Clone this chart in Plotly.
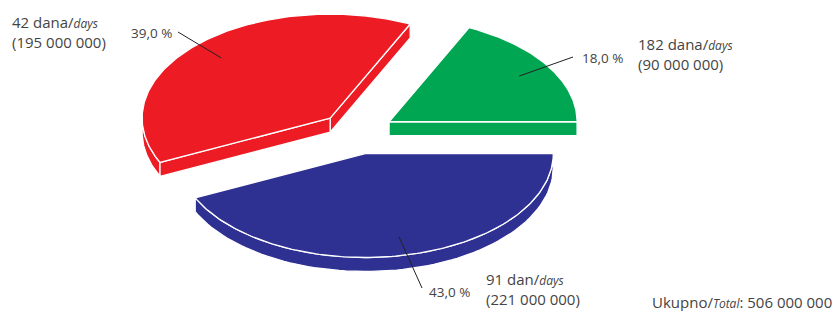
import numpy as np
import plotly.graph_objects as go

# ---- data ----
categories = ["182 dana", "42 dana", "91 dan"]
counts = [90000000, 195000000, 221000000]
percents = [18.0, 39.0, 43.0]
total = 506000000
pct_labels = ["18,0 %", "39,0 %", "43,0 %"]
count_labels = ["(90 000 000)", "(195 000 000)", "(221 000 000)"]
colors = ["#00a651", "#ed1c24", "#2e3192"]

# ---- layout / geometry parameters (pixel space) ----
W, H = 838, 311
CX, CY = 357, 133
RX, RY = 188, 104
EXPLODE = 38
DEPTH = 14
TEXT_COLOR = "#444444"
FONT = "Open Sans"

def pt(cx, cy, ang_deg, r=1.0, dz=0.0):
    a = np.radians(ang_deg)
    return cx + RX * r * np.cos(a), cy - RY * r * np.sin(a) + dz

fig = go.Figure()

def poly(xs, ys, color):
    fig.add_trace(go.Scatter(x=list(xs) + [xs[0]], y=list(ys) + [ys[0]], mode="lines",
                             fill="toself", fillcolor=color,
                             line=dict(color="white", width=1.3),
                             hoverinfo="skip", showlegend=False))

start = 0.0
slices = []
for p in percents:
    a0 = start
    a1 = start + p * 3.6
    start = a1
    slices.append((a0, a1))

# draw order back to front: green, red, blue
for i in [0, 1, 2]:
    a0, a1 = slices[i]
    mid = (a0 + a1) / 2
    ax = CX + EXPLODE * np.cos(np.radians(mid))
    ay = CY - EXPLODE * RY / RX * np.sin(np.radians(mid))
    col = colors[i]
    # outer arc front face
    lo, hi = max(a0, 180.0), min(a1, 360.0)
    if hi > lo:
        angs = np.linspace(lo, hi, 80)
        tx, ty = pt(ax, ay, angs)
        bx, by = pt(ax, ay, angs[::-1], dz=DEPTH)
        poly(np.concatenate([tx, bx]), np.concatenate([ty, by]), col)
    # radial faces
    if np.cos(np.radians(a0)) > 1e-9:
        rx_, ry_ = pt(ax, ay, a0)
        poly([ax, rx_, rx_, ax], [ay, ry_, ry_ + DEPTH, ay + DEPTH], col)
    if np.cos(np.radians(a1)) < -1e-9:
        rx_, ry_ = pt(ax, ay, a1)
        poly([ax, rx_, rx_, ax], [ay, ry_, ry_ + DEPTH, ay + DEPTH], col)
    # top face
    angs = np.linspace(a0, a1, 160)
    tx, ty = pt(ax, ay, angs)
    poly(np.concatenate([[ax], tx]), np.concatenate([[ay], ty]), col)
    slices[i] = (a0, a1, ax, ay, mid)

# leader lines + percent labels
pct_pos = [(573, 57, 580, 58, "left"), (178, 32, 174, 33, "right"), (422, 288, 427, 292, "left")]
for i in range(3):
    a0, a1, ax, ay, mid = slices[i]
    ix, iy = pt(ax, ay, mid, r=0.82)
    ox, oy, lx, ly, anc = pct_pos[i]
    fig.add_trace(go.Scatter(x=[ix, ox], y=[iy, oy], mode="lines",
                             line=dict(color="#222222", width=1),
                             hoverinfo="skip", showlegend=False))
    fig.add_annotation(x=lx, y=ly, text=pct_labels[i], showarrow=False,
                       xanchor=anc, yanchor="middle",
                       font=dict(family=FONT, size=13.5, color=TEXT_COLOR))

# main labels
main_pos = [(636, 54), (10, 32), (484, 289)]
for i in range(3):
    dana, word = categories[i].split(" ")
    txt = (f"{dana} {word}/<i><span style='font-size:12px'>days</span></i>"
           f"<br>{count_labels[i]}")
    x, y = main_pos[i]
    fig.add_annotation(x=x, y=y, text=txt, showarrow=False, align="left",
                       xanchor="left", yanchor="middle",
                       font=dict(family=FONT, size=15, color=TEXT_COLOR))

tot_txt = "Ukupno/<i><span style='font-size:12px'>Total</span></i>: " + \
    f"{total:,}".replace(",", " ")
fig.add_annotation(x=834, y=302, text=tot_txt, showarrow=False,
                   xanchor="right", yanchor="middle",
                   font=dict(family=FONT, size=15, color=TEXT_COLOR))

fig.update_xaxes(range=[0, W], visible=False, fixedrange=True)
fig.update_yaxes(range=[H, 0], visible=False, fixedrange=True)
fig.update_layout(width=W, height=H, margin=dict(l=0, r=0, t=0, b=0),
                  plot_bgcolor="white", paper_bgcolor="white", showlegend=False)

fig.write_html("out.html", config={"displayModeBar": False},
               post_script="document.body.style.margin='0';document.body.style.overflow='hidden';")
